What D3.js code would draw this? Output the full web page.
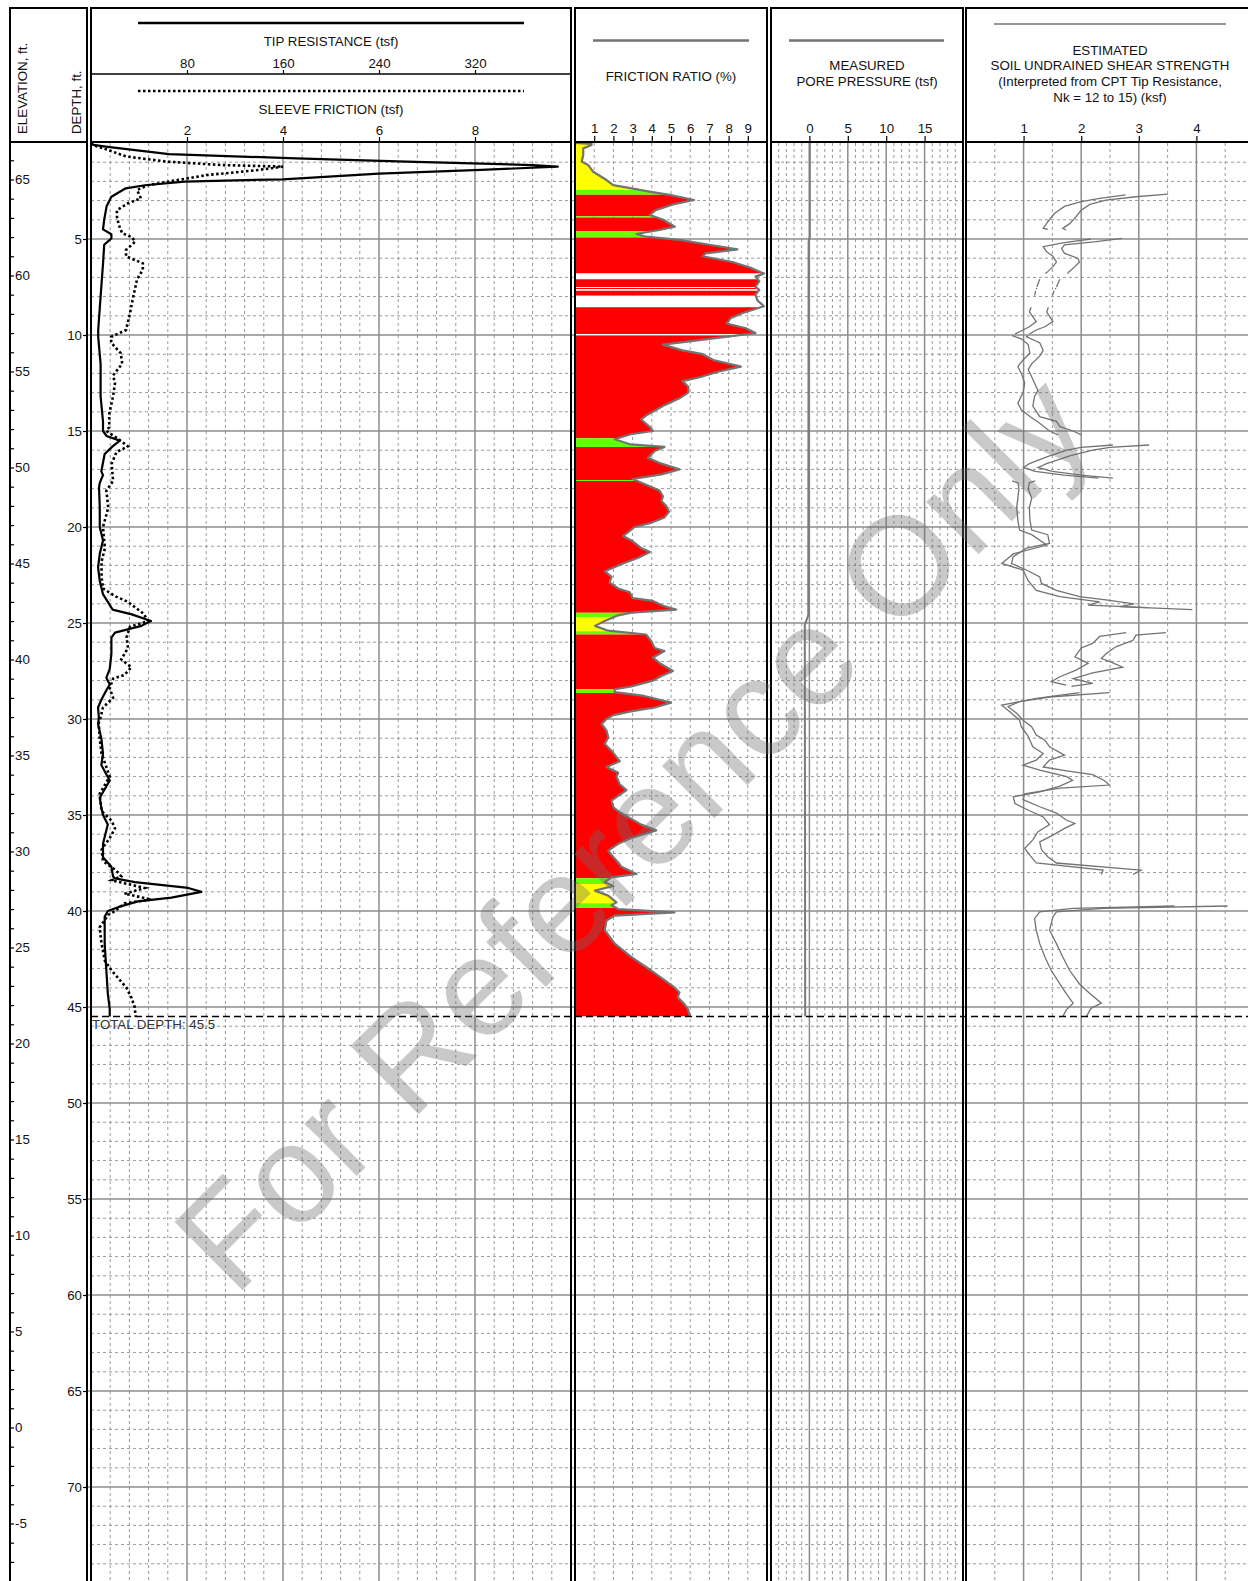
<!DOCTYPE html>
<html>
<head>
<meta charset="utf-8">
<title>CPT sounding log</title>
<script src="https://cdn.jsdelivr.net/npm/d3@7"></script>
<style>
  body { margin: 0; background: #fff; }
  svg { display: block; font-family: "Liberation Sans", Arial, sans-serif; }
</style>
</head>
<body>
<div id="root"></div>
<script>
// ---- data (depth in ft) ----
const groundElevation = 66.9;
const totalDepth = 45.5;

// [depth, tip resistance tsf]
const tipResistance = [
  [0, 0], [0.1, 2], [0.2, 14], [0.58, 65], [0.8, 171], [0.97, 263], [1.15, 368], [1.23, 389],
  [1.4, 325], [1.6, 240], [1.89, 160], [2.01, 78], [2.2, 45], [2.36, 29], [2.8, 17], [3.3, 13],
  [4.0, 11], [4.5, 10], [4.75, 17], [4.97, 17], [5.3, 11], [6.3, 10], [8, 8], [9.74, 6],
  [10.1, 6], [11.5, 8], [13.2, 8], [14.5, 10], [15.0, 10], [15.26, 13], [15.5, 24], [15.8, 18],
  [16.2, 11.4], [17.1, 8.6], [17.3, 10], [17.7, 7.3], [17.95, 6.7], [19, 7.3], [20, 7.3],
  [20.7, 10], [21.4, 7.3], [22.1, 5.9], [22.8, 7.3], [23.5, 10], [23.9, 14], [24.3, 18],
  [24.55, 34], [24.9, 50], [25.15, 42], [25.5, 20], [25.76, 17], [26.6, 17], [27.4, 15.6],
  [27.85, 12.8], [28.2, 15.6], [28.5, 12.8], [29, 8.6], [29.4, 5.9], [29.9, 6.5], [30.3, 6],
  [31, 8.6], [31.8, 10], [32.4, 8.6], [33.2, 15.6], [34.1, 7.3], [34.6, 8.6], [35, 10],
  [35.5, 14], [36.5, 10], [37.2, 10], [37.7, 17], [38.2, 18.4], [38.3, 20], [38.5, 36.5],
  [38.8, 81], [39.0, 92], [39.3, 67], [39.5, 39], [39.8, 22.6], [40.0, 14], [40.3, 11.4],
  [41.7, 11.4], [43.1, 12.8], [44.3, 14], [45.1, 15.6], [45.5, 15.6]
];

// [depth, sleeve friction tsf]
const sleeveFriction = [
  [0, 0], [0.1, 0.04], [0.36, 0.35], [0.7, 0.73], [0.97, 1.58], [1.15, 2.73], [1.23, 4.0],
  [1.4, 3.5], [1.67, 2.42], [1.93, 1.8], [2.2, 1.19], [2.45, 0.96], [2.88, 1.04], [3.14, 0.77],
  [3.5, 0.54], [3.84, 0.54], [4.27, 0.58], [4.7, 0.65], [4.9, 0.85], [5.14, 0.92], [5.57, 0.73],
  [5.9, 0.73], [6.27, 1.08], [6.6, 1.08], [7.1, 0.96], [8, 0.88], [8.9, 0.81], [9.74, 0.73],
  [10.1, 0.42], [10.4, 0.42], [10.95, 0.62], [11.5, 0.65], [12.1, 0.46], [12.5, 0.5],
  [13.2, 0.46], [14.1, 0.38], [14.8, 0.38], [15, 0.32], [15.4, 0.56], [15.8, 0.77],
  [16.1, 0.53], [16.7, 0.43], [17.6, 0.46], [18.1, 0.32], [19, 0.36], [20, 0.25], [21.1, 0.29],
  [21.8, 0.22], [22.6, 0.22], [23.2, 0.25], [23.6, 0.5], [23.9, 0.77], [24.5, 1.09],
  [24.9, 1.19], [25.2, 0.81], [25.76, 0.74], [26.3, 0.77], [26.9, 0.63], [27.3, 0.84],
  [27.7, 0.7], [27.9, 0.46], [28.4, 0.39], [28.9, 0.46], [29.4, 0.25], [29.9, 0.2],
  [30.2, 0.16], [31, 0.18], [31.8, 0.22], [33, 0.39], [33.9, 0.18], [34.8, 0.22], [35.3, 0.43],
  [35.7, 0.5], [36.2, 0.39], [36.8, 0.22], [37.4, 0.25], [37.9, 0.53], [38.2, 0.63],
  [38.4, 0.43], [38.8, 1.12], [39.1, 0.7], [39.4, 1.26], [39.6, 0.7], [40.0, 0.5], [40.2, 0.36],
  [40.85, 0.18], [41.7, 0.22], [42.6, 0.29], [43.1, 0.43], [44, 0.74], [44.5, 0.84],
  [45, 0.91], [45.5, 0.93]
];

// [depth, friction ratio %]
const frictionRatio = [
  [0, 0], [0.05, 0.86], [0.1, 0.86], [0.28, 0.43], [0.63, 0.43], [0.97, 0.35], [1.15, 0.69],
  [1.5, 0.95], [1.93, 1.64], [2.19, 1.99], [2.53, 3.89], [2.7, 4.92], [2.97, 6.2], [3.2, 5.1],
  [3.5, 4.2], [3.75, 3.9], [4.0, 4.6], [4.36, 5.2], [4.53, 4.4], [4.74, 3.2], [4.88, 3.7],
  [5.05, 5.44], [5.3, 7.0], [5.54, 8.46], [5.75, 6.8], [5.9, 6.65], [6.2, 8.2], [6.5, 9.15],
  [6.8, 9.84], [6.96, 9.4], [7.2, 9.6], [7.5, 9.4], [7.65, 9.6], [7.9, 9.4], [8.2, 9.5],
  [8.5, 9.84], [8.87, 8.7], [9.13, 8.1], [9.4, 7.9], [9.65, 8.9], [9.9, 9.4], [10.2, 7.0],
  [10.5, 4.58], [10.8, 5.6], [11.0, 6.65], [11.3, 7.2], [11.65, 8.64], [11.9, 7.5], [12.2, 6.5],
  [12.4, 5.6], [12.7, 5.9], [13.0, 5.9], [13.3, 5.44], [13.7, 4.58], [14.2, 3.7], [14.4, 3.45],
  [14.8, 3.9], [15, 4.06], [15.17, 2.9], [15.43, 2.07], [15.7, 2.9], [15.83, 4.66],
  [16.04, 4.15], [16.4, 3.8], [16.7, 4.5], [17.0, 5.44], [17.26, 4.5], [17.5, 3.0], [17.8, 3.7],
  [18.1, 4.4], [18.4, 4.58], [18.65, 4.5], [18.9, 4.75], [19.2, 4.9], [19.5, 4.66], [19.8, 3.9],
  [20.0, 3.1], [20.2, 2.85], [20.47, 2.5], [20.7, 2.94], [21.1, 3.45], [21.3, 3.9], [21.6, 3.3],
  [21.9, 2.5], [22.3, 1.55], [22.6, 1.9], [22.9, 1.8], [23.2, 2.25], [23.4, 2.85], [23.7, 3.0],
  [23.85, 4.06], [24.1, 4.58], [24.3, 5.27], [24.46, 2.94], [24.6, 2.25], [24.9, 1.55],
  [25.15, 1.04], [25.4, 1.73], [25.6, 3.7], [25.94, 3.97], [26.3, 4.15], [26.46, 4.66],
  [26.8, 4.06], [27.15, 4.5], [27.5, 5.1], [27.76, 4.5], [28.0, 4.06], [28.3, 2.94],
  [28.45, 2.07], [28.6, 2.07], [28.8, 3.6], [29.15, 5.0], [29.4, 4.15], [29.6, 2.9],
  [29.8, 2.0], [30.0, 1.64], [30.26, 1.38], [30.6, 1.64], [30.95, 1.73], [31.3, 1.55],
  [31.65, 1.9], [32.2, 2.33], [32.5, 1.64], [32.8, 2.25], [33.0, 2.16], [33.4, 2.33],
  [33.7, 2.68], [34.0, 2.25], [34.25, 1.9], [34.6, 2.0], [34.86, 2.33], [35.1, 2.76],
  [35.5, 3.45], [35.8, 4.23], [36.2, 2.94], [36.5, 2.25], [36.86, 1.73], [37.2, 2.0],
  [37.47, 2.25], [37.7, 2.42], [38.07, 3.2], [38.25, 1.9], [38.5, 1.55], [38.7, 2.0],
  [38.94, 1.04], [39.2, 1.73], [39.55, 2.16], [39.7, 1.9], [39.9, 2.25], [40.07, 5.18],
  [40.24, 2.07], [40.5, 1.64], [41.0, 1.55], [41.7, 2.07], [42.4, 2.94], [43.1, 3.97],
  [43.6, 4.66], [43.98, 5.18], [44.24, 5.44], [44.5, 5.35], [44.85, 5.7], [45.1, 5.87],
  [45.5, 6.0]
];

// soil behaviour bands behind the friction ratio: [top, bottom, type]
const soilBands = [
  [0, 2.45, "sand"], [2.45, 2.7, "silt"], [2.7, 3.82, "clay"], [3.82, 3.88, "silt"],
  [3.88, 4.6, "clay"], [4.6, 4.92, "silt"], [4.92, 6.8, "clay"], [6.8, 7.1, "organic"],
  [7.1, 7.5, "clay"], [7.5, 7.55, "organic"], [7.55, 7.62, "clay"], [7.62, 7.7, "organic"],
  [7.7, 7.95, "clay"], [7.95, 8.55, "organic"], [8.55, 9.95, "clay"], [9.95, 10.03, "organic"],
  [10.03, 15.38, "clay"], [15.38, 15.83, "silt"], [15.83, 17.55, "clay"], [17.55, 17.6, "silt"],
  [17.6, 24.46, "clay"], [24.46, 24.69, "silt"], [24.69, 25.43, "sand"], [25.43, 25.6, "silt"],
  [25.6, 28.45, "clay"], [28.45, 28.65, "silt"], [28.65, 38.3, "clay"], [38.3, 38.6, "silt"],
  [38.6, 39.6, "sand"], [39.6, 39.85, "silt"], [39.85, 45.5, "clay"]
];
const soilColors = { sand: "#ffff00", silt: "#66ff00", clay: "#ff0000", organic: "#ffffff" };

// [depth, pore pressure tsf]
const porePressure = [
  [0, 0.05], [4.9, 0.05], [5.1, -0.1], [24.6, -0.15], [25.1, -0.6], [45.5, -0.55]
];

// [depth, Su ksf]; null breaks the line
const suNk12 = [
  [2.66, 3.5], [2.8, 2.95], [2.97, 2.43], [3.2, 2.15], [3.5, 2.0], [3.84, 1.91], [4.2, 1.8],
  [4.45, 1.68], [4.53, 1.74], null,
  [4.97, 2.71], [5.14, 2.26], [5.3, 1.71], [5.5, 1.66], [5.75, 1.71], [6.0, 1.94], [6.2, 1.97],
  [6.44, 1.89], [6.7, 1.79], [6.8, 1.76], null,
  [7.1, 1.63], [7.5, 1.57], null, [7.55, 1.56], [7.62, 1.55], null, [7.7, 1.53], [7.95, 1.5], null,
  [8.55, 1.43], [8.8, 1.4], [9.3, 1.51], [9.57, 1.37], [9.74, 1.22], [9.95, 1.1], null,
  [10.03, 1.08], [10.1, 1.05], [10.4, 1.28], [10.8, 1.34], [11.1, 1.28], [11.5, 1.14],
  [11.8, 1.08], [12.3, 1.16], [12.9, 1.25], [13.2, 1.19], [13.7, 1.16], [14.25, 1.28],
  [14.5, 1.57], [14.77, 1.63], [15.0, 1.86], [15.2, 2.0], null,
  [15.73, 3.18], [15.85, 2.5], [16.0, 2.2], [16.3, 1.8], [16.7, 1.4], [16.9, 1.25], [17.1, 1.5],
  [17.3, 2.0], [17.45, 2.55], null,
  [17.6, 1.2], [17.7, 1.1], [18.0, 1.08], [18.5, 1.14], [19.0, 1.1], [19.64, 1.11],
  [20.16, 1.14], [20.4, 1.42], [20.86, 1.45], [21.1, 1.05], [21.55, 0.82], [21.9, 0.79],
  [22.24, 1.05], [22.6, 1.28], [22.94, 1.31], [23.3, 1.57], [23.63, 1.97], [23.8, 2.43],
  [24.0, 2.92], [24.15, 2.67], [24.3, 3.93], null,
  [25.5, 3.47], [25.63, 2.95], [25.9, 2.9], [26.24, 2.6], [26.6, 2.43], [26.85, 2.35],
  [27.0, 2.49], [27.3, 2.72], [27.6, 2.2], [27.9, 1.86], [28.15, 2.2], [28.3, 1.83], null,
  [28.63, 2.49], [28.84, 1.51], [29.1, 0.93], [29.36, 0.73], [29.7, 0.88], [30.06, 0.99],
  [30.4, 1.14], [30.84, 1.22], [31.1, 1.37], [31.45, 1.45], [31.88, 1.71], [32.14, 1.45],
  [32.5, 1.34], [32.7, 1.75], [32.9, 2.2], [33.2, 2.4], [33.44, 2.49], [33.6, 1.63],
  [33.9, 1.02], [34.2, 0.99], [34.57, 1.28], [34.9, 1.57], [35.26, 1.74], [35.44, 1.89],
  [35.7, 1.71], [36.05, 1.51], [36.4, 1.28], [36.8, 1.31], [37.17, 1.42], [37.5, 1.57],
  [37.87, 3.04], [38.1, 2.9], null,
  [39.74, 4.54], [39.86, 2.38], [40.04, 1.57], [40.3, 1.51], [41.0, 1.45], [41.7, 1.57],
  [42.4, 1.68], [43.1, 1.8], [43.8, 1.97], [44.3, 2.15], [44.8, 2.35], [45.07, 2.17],
  [45.5, 2.09]
];
const suNk15 = [
  [2.7, 2.77], [2.88, 2.32], [3.05, 2.0], [3.3, 1.71], [3.66, 1.54], [4.1, 1.42], [4.44, 1.34],
  [4.5, 1.42], null,
  [5.0, 2.17], [5.2, 1.68], [5.4, 1.34], [5.66, 1.4], [5.9, 1.51], [6.2, 1.57], [6.44, 1.51],
  [6.7, 1.42], [6.8, 1.38], null,
  [7.1, 1.28], [7.5, 1.23], null, [7.55, 1.23], [7.62, 1.22], null, [7.7, 1.21], [7.95, 1.19], null,
  [8.55, 1.13], [8.8, 1.1], [9.3, 1.22], [9.57, 1.1], [9.74, 0.99], [9.95, 0.85], null,
  [10.03, 0.8], [10.2, 0.96], [10.5, 1.08], [10.95, 1.11], [11.3, 0.99], [11.65, 0.9],
  [12.0, 0.96], [12.5, 1.02], [13.0, 0.99], [13.56, 0.9], [13.9, 0.96], [14.25, 1.11],
  [14.6, 1.28], [15.0, 1.45], [15.2, 1.6], null,
  [15.73, 2.55], [15.85, 2.0], [16.0, 1.75], [16.3, 1.45], [16.7, 1.1], [16.9, 1.0], [17.1, 1.2],
  [17.3, 1.7], [17.45, 2.3], null,
  [17.6, 0.8], [17.7, 0.9], [18.0, 0.92], [18.5, 0.9], [19.0, 0.88], [19.64, 0.9],
  [20.16, 0.93], [20.4, 1.14], [20.94, 1.4], [21.4, 0.82], [21.9, 0.62], [22.24, 0.99],
  [22.8, 1.08], [23.3, 1.22], [23.63, 1.63], [23.9, 2.32], [24.07, 2.12], [24.2, 3.15], null,
  [25.5, 2.78], [25.7, 2.32], [26.06, 2.2], [26.3, 2.0], [26.76, 1.89], [27.1, 2.12],
  [27.45, 1.91], [27.8, 1.63], [28.06, 1.48], [28.24, 1.74], null,
  [28.63, 1.97], [28.93, 1.22], [29.28, 0.62], [29.62, 0.76], [30.06, 0.93], [30.4, 0.96],
  [30.9, 1.08], [31.45, 1.16], [31.8, 1.34], [32.14, 1.22], [32.4, 0.99], [32.66, 1.28],
  [33.0, 1.75], [33.2, 1.85], [33.5, 1.63], [33.8, 1.28], [34.05, 0.82], [34.4, 0.85],
  [34.66, 1.02], [35.1, 1.34], [35.5, 1.45], [35.87, 1.25], [36.3, 1.16], [36.74, 1.02],
  [37.1, 1.11], [37.5, 1.22], [37.87, 2.38], [38.1, 2.35], null,
  [39.74, 3.62], [39.86, 1.86], [40.04, 1.28], [40.4, 1.19], [41.0, 1.22], [41.7, 1.28],
  [42.4, 1.37], [43.1, 1.48], [43.8, 1.63], [44.3, 1.74], [44.8, 1.86], [45.15, 1.74],
  [45.5, 1.68]
];

// tick labels
const tipTicks = [80, 160, 240, 320];
const sleeveTicks = [2, 4, 6, 8];
const frTicks = [1, 2, 3, 4, 5, 6, 7, 8, 9];
const poreTicks = [0, 5, 10, 15];
const suTicks = [1, 2, 3, 4];

// ---- layout ----
const width = 1248;
const height = 1581;
const boxTop = 8;
const headBottom = 142;
const plotTop = 143;
const plotBottom = 1583;
const fontSize = 13.3;
const gridColor = "#8c8c8c";
const curveGray = "#737373";

const svg = d3.select("#root")
  .append("svg")
  .attr("width", width)
  .attr("height", height)
  .attr("viewBox", `0 0 ${width} ${height}`);

svg.append("rect").attr("width", width).attr("height", height).attr("fill", "#fff");

const y = d3.scaleLinear().domain([0, 75]).range([plotTop, plotBottom]);
const yElev = d3.scaleLinear()
  .domain([groundElevation, groundElevation - 75])
  .range([plotTop, plotBottom]);

const xSleeve = d3.scaleLinear().domain([0, 10]).range([91, 571]);
const xTip = d3.scaleLinear().domain([0, 400]).range([91, 571]);
const xFr = d3.scaleLinear().domain([0, 10]).range([575, 767]);
const xPore = d3.scaleLinear().domain([-5, 20]).range([771, 963]);
const xSu = d3.scaleLinear().domain([0, 5]).range([966, 1254]);

const panels = [
  { x0: 91, x1: 571 },
  { x0: 575, x1: 767 },
  { x0: 771, x1: 963 },
  { x0: 966, x1: 1255 }
];

// ---- grid ----
const vGrid = [
  ...d3.range(1, 25).map((i) => ({ x: xSleeve(i * 0.4), major: i % 5 === 0 })),
  ...frTicks.map((v) => ({ x: xFr(v), major: false })),
  ...d3.range(-4, 20).map((v) => ({ x: xPore(v), major: v % 5 === 0 })),
  ...d3.range(1, 10).map((i) => ({ x: xSu(i / 2), major: i % 2 === 0 }))
];
const hGrid = d3.range(1, 75).map((d) => ({ d, major: d % 5 === 0 }));

const gridG = svg.append("g");
gridG.selectAll("line.vminor")
  .data(vGrid.filter((g) => !g.major))
  .join("line")
  .attr("x1", (d) => d.x).attr("x2", (d) => d.x)
  .attr("y1", plotTop).attr("y2", plotBottom)
  .attr("stroke", "#9a9a9a").attr("stroke-width", 1).attr("stroke-dasharray", "3,3");
gridG.selectAll("line.hminor")
  .data(hGrid.filter((g) => !g.major))
  .join("line")
  .attr("x1", 91).attr("x2", 1255)
  .attr("y1", (d) => y(d.d)).attr("y2", (d) => y(d.d))
  .attr("stroke", "#9a9a9a").attr("stroke-width", 1).attr("stroke-dasharray", "3,3");
gridG.selectAll("line.vmajor")
  .data(vGrid.filter((g) => g.major))
  .join("line")
  .attr("x1", (d) => d.x).attr("x2", (d) => d.x)
  .attr("y1", plotTop).attr("y2", plotBottom)
  .attr("stroke", gridColor).attr("stroke-width", 1.5);
gridG.selectAll("line.hmajor")
  .data(hGrid.filter((g) => g.major))
  .join("line")
  .attr("x1", 87).attr("x2", 1255)
  .attr("y1", (d) => y(d.d)).attr("y2", (d) => y(d.d))
  .attr("stroke", gridColor).attr("stroke-width", 1.5);

// ---- friction ratio fill by soil band ----
const defs = svg.append("defs");
soilBands.forEach((b, i) => {
  defs.append("clipPath").attr("id", `band-${i}`)
    .append("rect")
    .attr("x", 575).attr("width", 192)
    .attr("y", y(b[0])).attr("height", y(b[1]) - y(b[0]));
});
const frArea = d3.area()
  .y((d) => y(d[0]))
  .x0(xFr(0))
  .x1((d) => xFr(d[1]));
svg.append("g")
  .selectAll("path")
  .data(soilBands)
  .join("path")
  .attr("d", frArea(frictionRatio))
  .attr("clip-path", (d, i) => `url(#band-${i})`)
  .attr("fill", (d) => soilColors[d[2]]);
svg.append("path")
  .attr("d", d3.line().x((d) => xFr(d[1])).y((d) => y(d[0]))(frictionRatio))
  .attr("fill", "none").attr("stroke", curveGray).attr("stroke-width", 2.2)
  .attr("stroke-linejoin", "round");

// ---- tip & sleeve ----
svg.append("path")
  .attr("d", d3.line().x((d) => xSleeve(d[1])).y((d) => y(d[0]))(sleeveFriction))
  .attr("fill", "none").attr("stroke", "#000").attr("stroke-width", 2.6)
  .attr("stroke-dasharray", "2.5,2.5");
svg.append("path")
  .attr("d", d3.line().x((d) => xTip(d[1])).y((d) => y(d[0]))(tipResistance))
  .attr("fill", "none").attr("stroke", "#000").attr("stroke-width", 2.2)
  .attr("stroke-linejoin", "round");

// ---- pore pressure ----
svg.append("path")
  .attr("d", d3.line().x((d) => xPore(d[1])).y((d) => y(d[0]))(porePressure))
  .attr("fill", "none").attr("stroke", "#7a7a7a").attr("stroke-width", 2);

// ---- undrained shear strength ----
const suLine = d3.line()
  .defined((d) => d !== null)
  .x((d) => xSu(d[1]))
  .y((d) => y(d[0]));
svg.append("g")
  .selectAll("path")
  .data([suNk12, suNk15])
  .join("path")
  .attr("d", (d) => suLine(d))
  .attr("fill", "none").attr("stroke", curveGray).attr("stroke-width", 1.3);

// ---- total depth ----
svg.append("line")
  .attr("x1", 91).attr("x2", 1255)
  .attr("y1", y(totalDepth)).attr("y2", y(totalDepth))
  .attr("stroke", "#000").attr("stroke-width", 1.5).attr("stroke-dasharray", "7,4");
svg.append("text")
  .attr("x", 92).attr("y", y(totalDepth) + 12.5)
  .attr("font-size", fontSize).attr("fill", "#333")
  .text(`TOTAL DEPTH: ${totalDepth}`);

// ---- frames ----
const frameG = svg.append("g").attr("fill", "none").attr("stroke", "#000").attr("stroke-width", 2);
frameG.append("rect").attr("x", 10).attr("y", boxTop).attr("width", 77).attr("height", 1600);
frameG.append("line").attr("x1", 10).attr("x2", 87).attr("y1", headBottom).attr("y2", headBottom);
panels.forEach((p) => {
  frameG.append("rect").attr("x", p.x0).attr("y", boxTop).attr("width", p.x1 - p.x0).attr("height", 1600);
  frameG.append("line").attr("x1", p.x0).attr("x2", p.x1).attr("y1", headBottom).attr("y2", headBottom);
});
frameG.append("line").attr("x1", 91).attr("x2", 571).attr("y1", 74).attr("y2", 74).attr("stroke-width", 1.5);

// ---- axes ----
function styleAxis(g) {
  g.attr("font-size", fontSize).attr("font-family", null);
  g.select(".domain").remove();
  g.selectAll("line").attr("stroke", "#000").attr("stroke-width", 1.2);
  g.selectAll("text").attr("fill", "#111");
}
function headerAxis(scale, ypos, values, size, pad) {
  svg.append("g")
    .attr("transform", `translate(0,${ypos})`)
    .call(d3.axisTop(scale)
      .tickValues(values)
      .tickFormat(d3.format("d"))
      .tickSize(size).tickSizeOuter(0).tickPadding(pad))
    .call(styleAxis);
}
headerAxis(xTip, 74, tipTicks, 4, 2);
headerAxis(xSleeve, headBottom, sleeveTicks, 5, 2);
headerAxis(xFr, headBottom, frTicks, 6, 3);
headerAxis(xPore, headBottom, poreTicks, 6, 3);
headerAxis(xSu, headBottom, suTicks, 6, 3);

svg.append("g")
  .attr("transform", "translate(87,0)")
  .call(d3.axisLeft(y).tickValues(d3.range(5, 75, 5)).tickSize(4).tickPadding(1))
  .call(styleAxis);
svg.append("g")
  .attr("transform", "translate(10,0)")
  .call(d3.axisRight(yElev)
    .tickValues(d3.range(-8, 67))
    .tickSize(4).tickPadding(1)
    .tickFormat((d) => (d % 5 === 0 ? d : "")))
  .call(styleAxis);

// ---- header labels ----
const label = (x, yy, txt, opts = {}) =>
  svg.append("text")
    .attr("x", x).attr("y", yy)
    .attr("text-anchor", opts.anchor || "middle")
    .attr("font-size", fontSize)
    .attr("fill", "#111")
    .attr("transform", opts.rotate ? `rotate(-90,${x},${yy})` : null)
    .text(txt);

label(27, 134, "ELEVATION, ft.", { anchor: "start", rotate: true });
label(81, 134, "DEPTH, ft.", { anchor: "start", rotate: true });

label(331, 46, "TIP RESISTANCE (tsf)");
label(331, 113.5, "SLEEVE FRICTION (tsf)");
label(671, 80.5, "FRICTION RATIO (%)");
label(867, 70, "MEASURED");
label(867, 85.5, "PORE PRESSURE (tsf)");
label(1110, 55, "ESTIMATED");
label(1110, 70, "SOIL UNDRAINED SHEAR STRENGTH");
label(1110, 85.5, "(Interpreted from CPT Tip Resistance,");
label(1110, 101.5, "Nk = 12 to 15) (ksf)");

// legend swatches in header
svg.append("line").attr("x1", 138).attr("x2", 524).attr("y1", 23).attr("y2", 23)
  .attr("stroke", "#000").attr("stroke-width", 2.5);
svg.append("line").attr("x1", 138).attr("x2", 524).attr("y1", 91).attr("y2", 91)
  .attr("stroke", "#000").attr("stroke-width", 2.6).attr("stroke-dasharray", "2.5,2.5");
svg.append("line").attr("x1", 593).attr("x2", 749).attr("y1", 40.5).attr("y2", 40.5)
  .attr("stroke", curveGray).attr("stroke-width", 2.6);
svg.append("line").attr("x1", 789).attr("x2", 944).attr("y1", 40.5).attr("y2", 40.5)
  .attr("stroke", curveGray).attr("stroke-width", 2.6);
svg.append("line").attr("x1", 994).attr("x2", 1226).attr("y1", 24).attr("y2", 24)
  .attr("stroke", curveGray).attr("stroke-width", 1.3);

// ---- watermark ----
svg.append("text")
  .attr("transform", "translate(632,832) rotate(-45)")
  .attr("text-anchor", "middle")
  .attr("dominant-baseline", "central")
  .attr("font-size", 140)
  .attr("fill", "#6c6c6c")
  .attr("fill-opacity", 0.37)
  .text("For Reference Only");
</script>
</body>
</html>
